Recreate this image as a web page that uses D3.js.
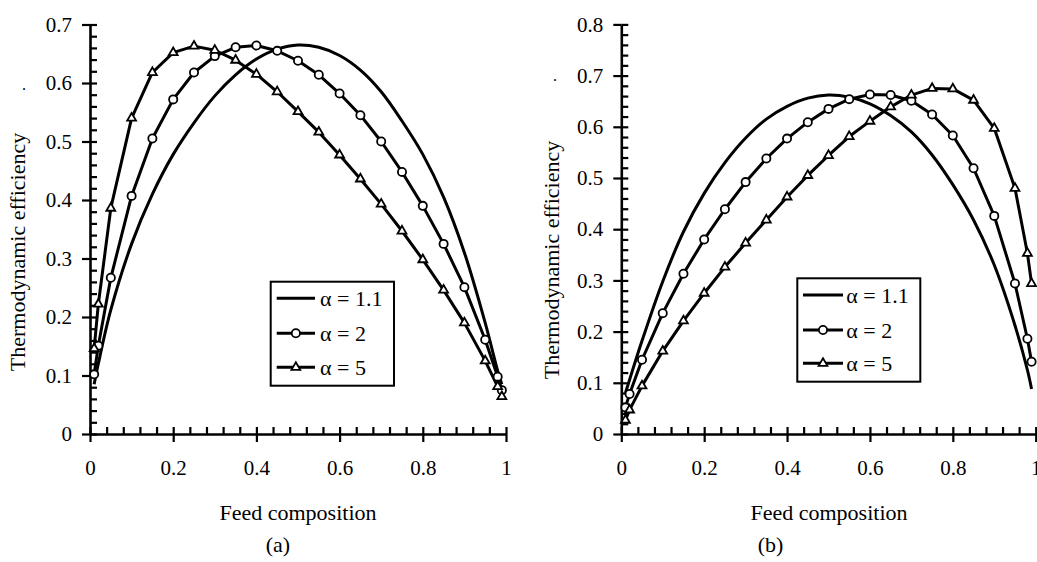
<!DOCTYPE html>
<html>
<head>
<meta charset="utf-8">
<script src="https://cdn.jsdelivr.net/npm/d3@7"></script>
<style>
  html, body { margin: 0; padding: 0; background: #fff; }
  svg { display: block; }
  text { font-family: "Liberation Serif", "Times New Roman", serif; fill: #000; }
</style>
</head>
<body>
<svg id="chart" width="1037" height="562"></svg>
<script>
// ---------- data ----------
const feedComposition = [0.01, 0.02, 0.05, 0.1, 0.15, 0.2, 0.25, 0.3, 0.35, 0.4, 0.45, 0.5,
  0.55, 0.6, 0.65, 0.7, 0.75, 0.8, 0.85, 0.9, 0.95, 0.98, 0.99];

// panel (a)
const effA_alpha11 = [0.085, 0.12, 0.212, 0.325, 0.41, 0.478, 0.532, 0.578, 0.614, 0.641, 0.658, 0.665,
  0.661, 0.647, 0.622, 0.585, 0.535, 0.478, 0.405, 0.31, 0.19, 0.108, 0.085];
const effA_alpha2 = [0.102, 0.151, 0.267, 0.407, 0.505, 0.572, 0.618, 0.646, 0.661, 0.664, 0.655, 0.638,
  0.614, 0.582, 0.545, 0.5, 0.448, 0.39, 0.325, 0.251, 0.161, 0.098, 0.075];
const effA_alpha5 = [0.146, 0.222, 0.386, 0.54, 0.618, 0.652, 0.663, 0.656, 0.639, 0.615, 0.585, 0.551,
  0.516, 0.477, 0.436, 0.393, 0.347, 0.298, 0.246, 0.19, 0.125, 0.081, 0.064];

// panel (b)
const effB_alpha11 = [0.08, 0.106, 0.182, 0.298, 0.395, 0.47, 0.53, 0.578, 0.615, 0.64, 0.656, 0.662,
  0.658, 0.645, 0.622, 0.59, 0.545, 0.487, 0.418, 0.33, 0.212, 0.125, 0.088];
const effB_alpha2 = [0.052, 0.078, 0.145, 0.236, 0.313, 0.38, 0.439, 0.492, 0.538, 0.577, 0.609, 0.635,
  0.654, 0.663, 0.662, 0.651, 0.624, 0.583, 0.519, 0.426, 0.294, 0.186, 0.141];
const effB_alpha5 = [0.027, 0.047, 0.094, 0.162, 0.221, 0.275, 0.326, 0.373, 0.418, 0.463, 0.505, 0.544,
  0.581, 0.611, 0.639, 0.662, 0.675, 0.674, 0.652, 0.597, 0.48, 0.353, 0.294];

const seriesNames = ["α = 1.1", "α = 2", "α = 5"];
const xTickLabels = [0, 0.2, 0.4, 0.6, 0.8, 1];
const yTicksA = [0, 0.1, 0.2, 0.3, 0.4, 0.5, 0.6, 0.7];
const yTicksB = [0, 0.1, 0.2, 0.3, 0.4, 0.5, 0.6, 0.7, 0.8];
const xTitle = "Feed composition";
const yTitle = "Thermodynamic efficiency";
const panelCaptions = ["(a)", "(b)"];

// ---------- drawing ----------
const svg = d3.select("#chart");

const panels = [
  { caption: panelCaptions[0], series: [effA_alpha11, effA_alpha2, effA_alpha5], yMax: 0.7, yTicks: yTicksA,
    x0: 90, x1: 506, yTop: 24.5, yBottom: 434, yTitleX: 25, yTitleY: 252, xTitleX: 298, capX: 278,
    legend: { x: 270.7, y: 281.7, w: 123.3, h: 104, lineX0: 276.7, lineX1: 315, textX: 320, rows: [298.3, 333.3, 367.3] },
    dot: [22, 90] },
  { caption: panelCaptions[1], series: [effB_alpha11, effB_alpha2, effB_alpha5], yMax: 0.8, yTicks: yTicksB,
    x0: 621.3, x1: 1035.7, yTop: 24.4, yBottom: 434, yTitleX: 559, yTitleY: 260, xTitleX: 829, capX: 770.5,
    legend: { x: 797.3, y: 278.3, w: 123, h: 103.4, lineX0: 803, lineX1: 843, textX: 846.3, rows: [295, 330, 363.3] },
    dot: [553, 81] }
];

const triangle = d3.symbol().type(d3.symbolTriangle).size(34);

function drawMarker(g, kind, cx, cy) {
  if (kind === 1) {
    g.append("circle").attr("cx", cx).attr("cy", cy).attr("r", 4.1)
      .attr("fill", "#fff").attr("stroke", "#000").attr("stroke-width", 1.8);
  } else if (kind === 2) {
    g.append("path").attr("d", triangle).attr("transform", `translate(${cx},${cy})`)
      .attr("fill", "#fff").attr("stroke", "#000").attr("stroke-width", 1.8);
  }
}

panels.forEach(p => {
  const g = svg.append("g");
  const x = d3.scaleLinear().domain([0, 1]).range([p.x0, p.x1]);
  const y = d3.scaleLinear().domain([0, p.yMax]).range([p.yBottom, p.yTop]);

  const yMinor = d3.range(0, Math.round(p.yMax / 0.02) + 1).map(i => +(i * 0.02).toFixed(2));
  const xMinor = d3.range(0, 26).map(i => +(i * 0.04).toFixed(2));

  // inner (minor + major) ticks
  g.append("g").attr("transform", `translate(${p.x0},0)`)
    .call(d3.axisRight(y).tickValues(yMinor).tickSize(7).tickSizeOuter(0).tickFormat(""))
    .call(s => s.select(".domain").remove())
    .call(s => s.selectAll("line").attr("stroke", "#000").attr("stroke-width", 2.2));
  g.append("g").attr("transform", `translate(0,${p.yBottom})`)
    .call(d3.axisTop(x).tickValues(xMinor).tickSize(7).tickSizeOuter(0).tickFormat(""))
    .call(s => s.select(".domain").remove())
    .call(s => s.selectAll("line").attr("stroke", "#000").attr("stroke-width", 2.2));

  // major axes with labels
  const yAxis = g.append("g").attr("transform", `translate(${p.x0},0)`)
    .call(d3.axisLeft(y).tickValues(p.yTicks).tickSize(8).tickSizeOuter(0).tickPadding(10)
      .tickFormat(d => d === 0 ? "0" : d3.format(".1f")(d)));
  const xAxis = g.append("g").attr("transform", `translate(0,${p.yBottom})`)
    .call(d3.axisBottom(x).tickValues(xTickLabels).tickSize(8).tickSizeOuter(0).tickPadding(18)
      .tickFormat(d => (d === 0 || d === 1) ? String(d) : d3.format(".1f")(d)));
  [yAxis, xAxis].forEach(a => {
    a.select(".domain").attr("stroke", "#000").attr("stroke-width", 2.6);
    a.selectAll("line").attr("stroke", "#000").attr("stroke-width", 2.2);
    a.selectAll("text").attr("font-family", "Liberation Serif, Times New Roman, serif")
      .attr("font-size", 21).attr("fill", "#000");
  });

  // series
  p.series.forEach((vals, si) => {
    const pts = feedComposition.map((c, i) => [c, vals[i]]);
    const line = d3.line().x(d => x(d[0])).y(d => y(d[1]))
      .curve(si === 0 ? d3.curveCatmullRom.alpha(0.5) : d3.curveLinear);
    g.append("path").datum(pts).attr("d", line).attr("fill", "none")
      .attr("stroke", "#000").attr("stroke-width", 3).attr("stroke-linejoin", "round");
  });
  p.series.forEach((vals, si) => {
    if (si === 0) return;
    feedComposition.forEach((c, i) => drawMarker(g, si, x(c), y(vals[i])));
  });

  // legend
  const L = p.legend;
  g.append("rect").attr("x", L.x).attr("y", L.y).attr("width", L.w).attr("height", L.h)
    .attr("fill", "#fff").attr("stroke", "#000").attr("stroke-width", 2);
  seriesNames.forEach((name, si) => {
    const ry = L.rows[si];
    g.append("line").attr("x1", L.lineX0).attr("x2", L.lineX1).attr("y1", ry).attr("y2", ry)
      .attr("stroke", "#000").attr("stroke-width", 3);
    drawMarker(g, si, (L.lineX0 + L.lineX1) / 2, ry);
    g.append("text").attr("x", L.textX).attr("y", ry + 8).attr("font-size", 22).text(name);
  });

  // titles
  g.append("text").attr("transform", `translate(${p.yTitleX},${p.yTitleY}) rotate(-90)`)
    .attr("text-anchor", "middle").attr("font-size", 22).text(yTitle);
  g.append("text").attr("x", p.xTitleX).attr("y", 520).attr("text-anchor", "middle")
    .attr("font-size", 22).text(xTitle);
  g.append("text").attr("x", p.capX).attr("y", 552).attr("text-anchor", "middle")
    .attr("font-size", 22).text(p.caption);
  g.append("text").attr("x", p.dot[0]).attr("y", p.dot[1]).attr("font-size", 16).text(".");
});
</script>
</body>
</html>
